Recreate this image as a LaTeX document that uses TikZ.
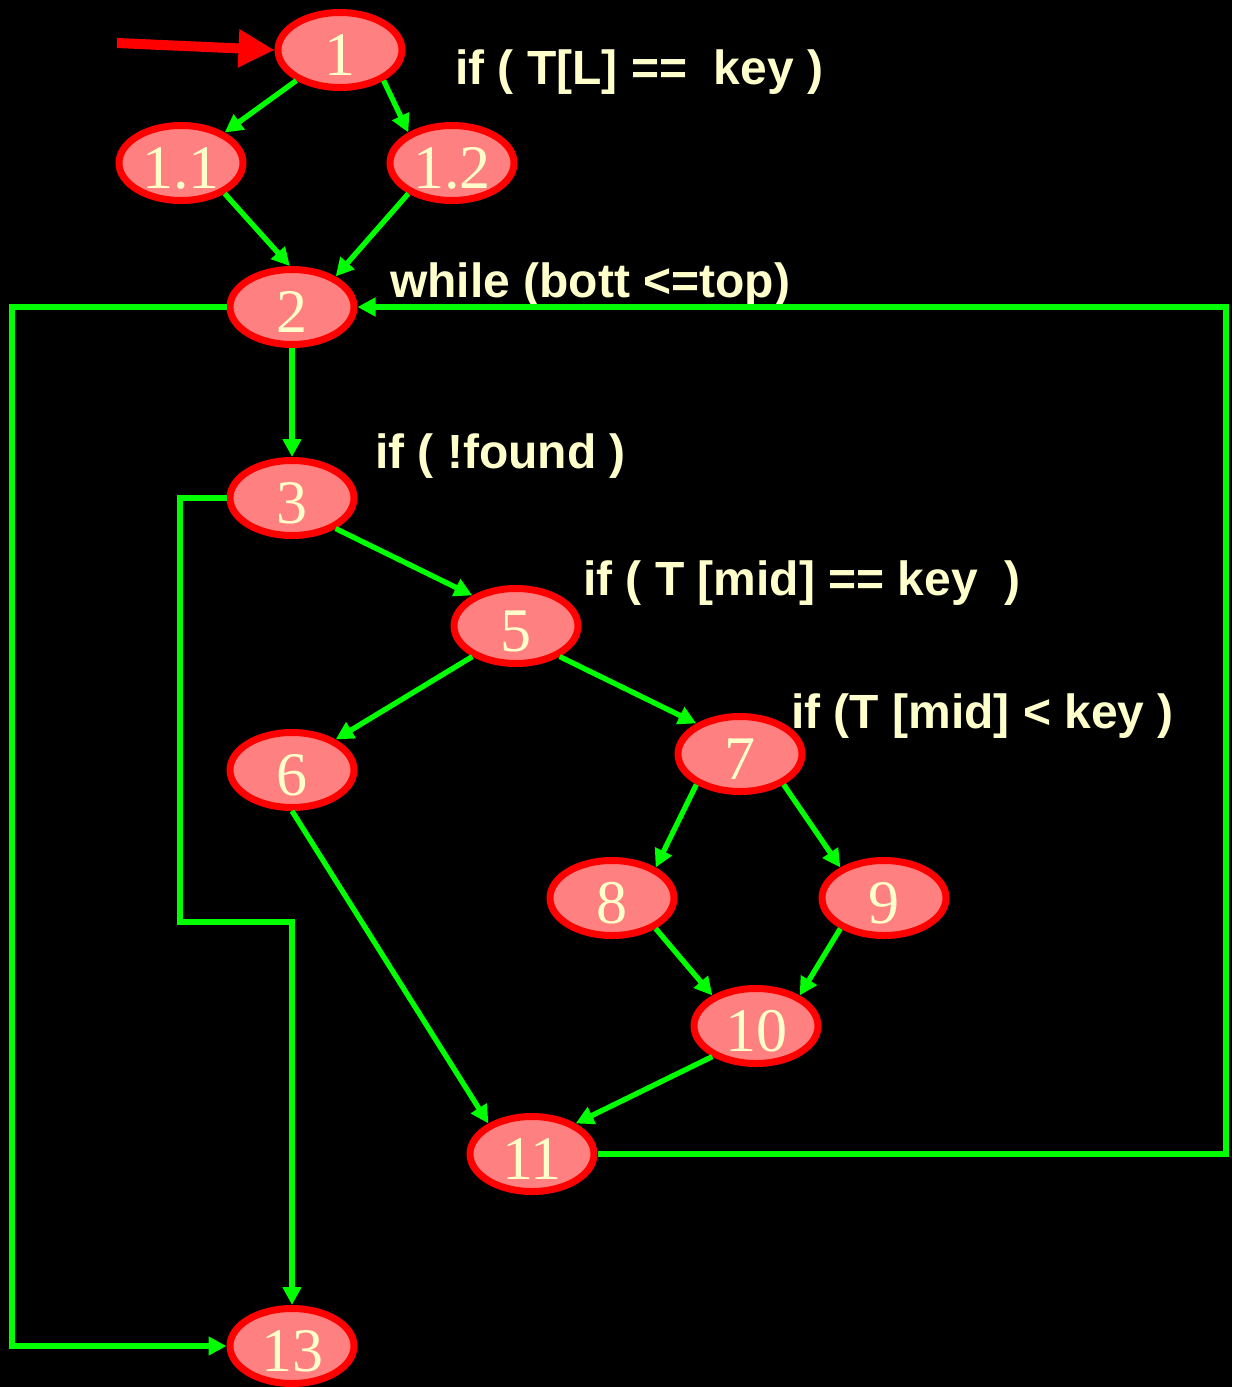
\documentclass[tikz,border=0pt]{standalone}
\usepackage{fontspec}
\setmainfont{Liberation Serif}
\newfontfamily\lblfont{Liberation Sans}
\usetikzlibrary{shapes.geometric,arrows.meta}
\definecolor{nodefill}{HTML}{FF8080}
\definecolor{cream}{HTML}{FFFFCC}
\definecolor{edgegreen}{HTML}{00FF00}
\begin{document}
\begin{tikzpicture}[x=1pt,y=-1pt,
  blk/.style={ellipse,draw=red,fill=nodefill,line width=7pt,
    minimum width=124pt,minimum height=75pt,inner sep=0pt,
    text=cream,font=\fontsize{62}{62}\selectfont,
    text height=51pt,text depth=0pt},
  lbl/.style={anchor=base west,inner sep=0pt,text=cream,
    font=\lblfont\bfseries\fontsize{48}{48}\selectfont},
  arr/.style={draw=edgegreen,line width=5.3pt,
    -{Triangle[length=18pt,width=18pt]}},
  entryarr/.style={draw=red,line width=10pt,
    -{Triangle[length=36pt,width=36pt]}}]
\fill[black] (0,0) rectangle (1232,1387);
\useasboundingbox (0,0) rectangle (1232,1387);

\node[blk] (n1)  at (340,50)   {1};
\node[blk] (n1a) at (181,163)  {1.1};
\node[blk] (n1b) at (452,163)  {1.2};
\node[blk] (n2)  at (292,307)  {2};
\node[blk] (n3)  at (292,498)  {3};
\node[blk] (n5)  at (516,626)  {5};
\node[blk] (n6)  at (292,770)  {6};
\node[blk] (n7)  at (740,754)  {7};
\node[blk] (n8)  at (612,898)  {8};
\node[blk] (n9)  at (884,898)  {9};
\node[blk] (n10) at (756,1026) {10};
\node[blk] (n11) at (532,1154) {11};
\node[blk] (n13) at (292,1346) {13};

\node[lbl] (t1) at (455,84)  {if ( T[L] ==\ \ key )};
\node[lbl] (t2) at (390,297) {while (bott <=top)};
\node[lbl] (t3) at (375,468) {if ( !found )};
\node[lbl] (t4) at (583,595) {if ( T [mid] == key\ \ )};
\node[lbl] (t5) at (791,728) {if (T [mid] < key )};

\coordinate (entry) at (117,43);
\draw[entryarr] (entry) -- (n1.west);

\draw[arr] (n1.-145) -- (n1a.35);
\draw[arr] (n1.-35) -- (n1b.145);
\draw[arr] (n1a.-35) -- (n2.93);
\draw[arr] (n1b.-145) -- (n2.35);
\draw[arr] (n2.south) -- (n3.north);
\draw[arr] (n3.-35) -- (n5.145);
\draw[arr] (n5.-145) -- (n6.35);
\draw[arr] (n5.-35) -- (n7.145);
\draw[arr] (n7.-145) -- (n8.35);
\draw[arr] (n7.-35) -- (n9.145);
\draw[arr] (n8.-35) -- (n10.145);
\draw[arr] (n9.-145) -- (n10.35);
\draw[arr] (n10.-145) -- (n11.35);
\draw[arr] (n6.south) -- (n11.145);

\coordinate (L) at (12,0);
\coordinate (M) at (180,922);
\coordinate (R) at (1226,0);
\draw[arr] (n2.west) -- (L |- n2.west) -- (L |- n13.west) -- (n13.west);
\draw[arr] (n3.west) -- (M |- n3.west) -- (M) -- (M -| n13) -- (n13.north);
\draw[arr] (n11.east) -- (R |- n11.east) -- (R |- n2.east) -- (n2.east);
\end{tikzpicture}
\end{document}
